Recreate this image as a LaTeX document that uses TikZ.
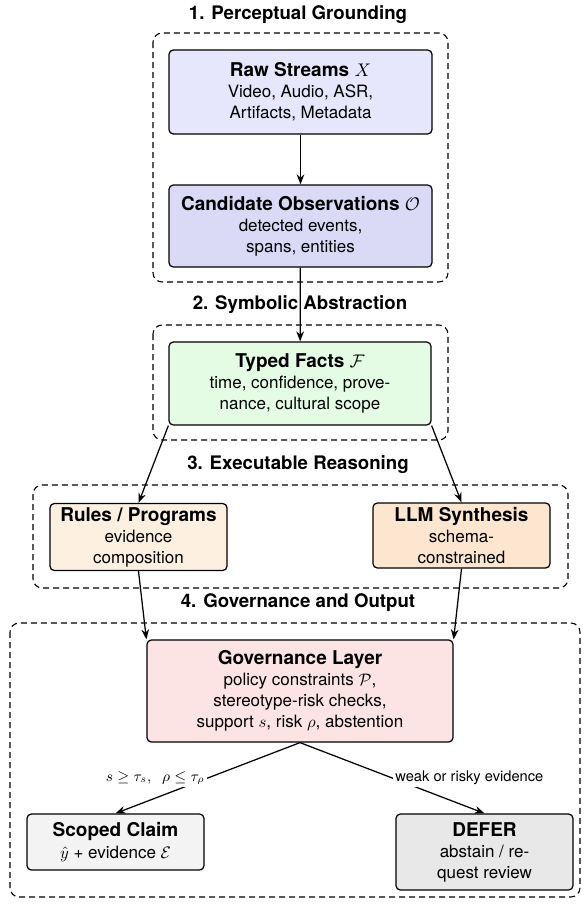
\documentclass[tikz,border=0pt]{standalone}
\usepackage{fontspec}
\setmainfont{TeX Gyre Heros}
\usetikzlibrary{arrows.meta}
\definecolor{rawfill}{RGB}{230,230,252}
\definecolor{obsfill}{RGB}{218,218,247}
\definecolor{factfill}{RGB}{228,252,228}
\definecolor{rulefill}{RGB}{253,240,224}
\definecolor{llmfill}{RGB}{252,230,208}
\definecolor{govfill}{RGB}{252,228,228}
\definecolor{claimfill}{RGB}{243,243,243}
\definecolor{deferfill}{RGB}{232,232,232}
\newcommand{\hdtext}[1]{{\fontsize{11.4}{12.6}\selectfont\bfseries #1}}
\tikzset{
  box/.style={draw, rounded corners=2.6pt, line width=0.75pt, align=center, inner sep=0pt, font=\fontsize{10.2}{12.6}\selectfont},
  grp/.style={draw, dash pattern=on 3.6pt off 2.4pt, rounded corners=5.5pt, line width=0.65pt},
  ttl/.style={font=\fontsize{11.2}{13}\selectfont\bfseries, inner sep=1pt},
  arr/.style={-{Stealth[length=6pt,width=4.6pt]}, line width=0.75pt},
  lbl/.style={fill=white, inner sep=1.5pt, font=\fontsize{8.8}{10}\selectfont}
}
\begin{document}
\begin{tikzpicture}[x=0.6pt,y=-0.6pt]
\useasboundingbox (0,0) rectangle (586,908);
% groups
\draw[grp] (153,33) rectangle (448,282);
\draw[grp] (153,325) rectangle (448,440);
\draw[grp] (33,485) rectangle (568,588);
\draw[grp] (10,623) rectangle (580,897);
% titles
\node[ttl] (t1) at (298,15) {1. Perceptual Grounding};
\node[ttl] (t2) at (300,305) {2. Symbolic Abstraction};
\node[ttl] (t3) at (298,465) {3. Executable Reasoning};
\node[ttl] (t4) at (298,603) {4. Governance and Output};
% nodes
\node[box, fill=rawfill, minimum width=157.8pt, minimum height=50.4pt] (raw) at (300.5,92)
  {\hdtext{Raw Streams $X$}\\Video, Audio, ASR,\\Artifacts, Metadata};
\node[box, fill=obsfill, minimum width=157.8pt, minimum height=49.2pt] (obs) at (300.5,226)
  {\hdtext{Candidate Observations $\mathcal{O}$}\\detected events,\\spans, entities};
\node[box, fill=factfill, minimum width=157.2pt, minimum height=49.8pt] (facts) at (300,383.5)
  {\hdtext{Typed Facts $\mathcal{F}$}\\time, confidence, prove-\\nance, cultural scope};
\node[box, fill=rulefill, minimum width=106.2pt, minimum height=40.2pt] (rules) at (138.5,537)
  {\hdtext{Rules / Programs}\\evidence\\composition};
\node[box, fill=llmfill, minimum width=106.2pt, minimum height=39pt] (llm) at (461.5,535.5)
  {\hdtext{LLM Synthesis}\\schema-\\constrained};
\node[box, fill=govfill, minimum width=183.6pt, minimum height=61.2pt] (gov) at (300,691)
  {\hdtext{Governance Layer}\\policy constraints $\mathcal{P}$,\\stereotype-risk checks,\\support $s$, risk $\rho$, abstention};
\node[box, fill=claimfill, minimum width=106.2pt, minimum height=33.6pt] (claim) at (115.5,842)
  {\hdtext{Scoped Claim}\\[0.6pt]$\hat{y}$ + evidence $\mathcal{E}$};
\node[box, fill=deferfill, minimum width=106.2pt, minimum height=45.6pt] (defer) at (484.5,852)
  {\hdtext{DEFER}\\abstain / re-\\quest review};
% connectors
\draw[arr] (raw) -- (obs);
\draw[arr] (obs) -- (facts);
\draw[arr] (facts.south west) -- (rules.north);
\draw[arr] (facts.south east) -- (llm.north);
\draw[arr] (rules.south) -- (gov.north west);
\draw[arr] (llm.south) -- (gov.north east);
\draw[arr] (gov.south) -- node[lbl, midway, left] {$s \geq \tau_s,\ \ \rho \leq \tau_\rho$} (claim.north);
\draw[arr] (gov.south) -- node[lbl, midway, right] {weak or risky evidence} (defer.north);
\end{tikzpicture}
\end{document}
